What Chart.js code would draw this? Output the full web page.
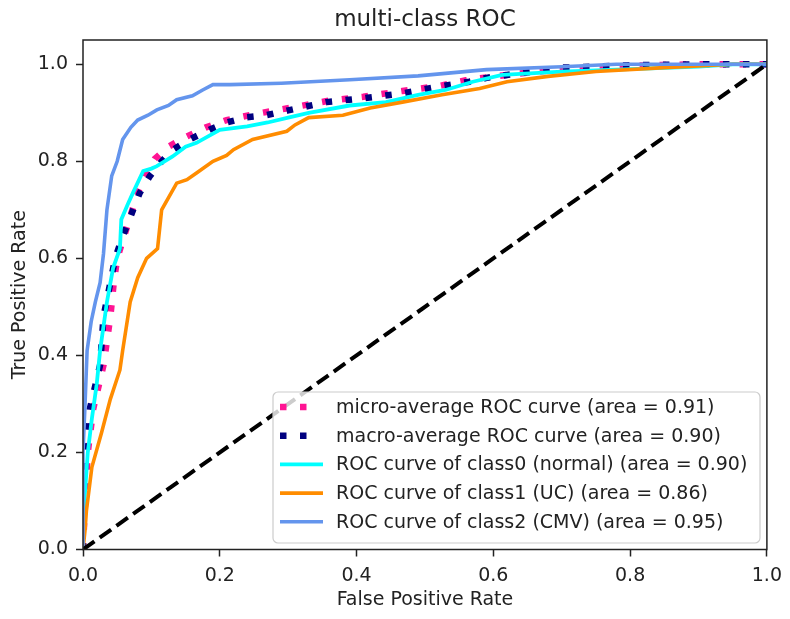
<!DOCTYPE html>
<html>
<head>
<meta charset="utf-8">
<script src="https://cdn.jsdelivr.net/npm/chart.js@4.4.0/dist/chart.umd.min.js"></script>
<style>
  html, body { margin: 0; padding: 0; background: #fff; }
  #wrap { width: 790px; height: 619px; }
</style>
</head>
<body>
<div id="wrap"><canvas id="rocChart" width="790" height="619"></canvas></div>
<script>
const xTicks = [0, 0.2, 0.4, 0.6, 0.8, 1.0];
const yTicks = [0, 0.2, 0.4, 0.6, 0.8, 1.0];

const microFpr = [0, 0.003, 0.007, 0.015, 0.03, 0.04, 0.045, 0.05, 0.06, 0.08, 0.092, 0.105, 0.125, 0.15, 0.18, 0.21, 0.25, 0.31, 0.36, 0.41, 0.467, 0.52, 0.56, 0.6, 0.7, 0.8, 0.9, 1.0];
const microTpr = [0, 0.1, 0.2, 0.29, 0.38, 0.48, 0.55, 0.6, 0.645, 0.735, 0.775, 0.805, 0.83, 0.85, 0.87, 0.885, 0.897, 0.912, 0.925, 0.933, 0.945, 0.955, 0.967, 0.975, 0.99, 0.997, 1.0, 1.0];

const macroFpr = [0, 0, 0.003, 0.01, 0.025, 0.03, 0.04, 0.047, 0.058, 0.083, 0.098, 0.115, 0.131, 0.156, 0.185, 0.21, 0.24, 0.268, 0.3, 0.356, 0.41, 0.467, 0.517, 0.565, 0.59, 0.62, 0.7, 0.8, 0.9, 1.0];
const macroTpr = [0, 0.1, 0.17, 0.29, 0.38, 0.48, 0.55, 0.6, 0.645, 0.735, 0.77, 0.8, 0.823, 0.845, 0.865, 0.88, 0.891, 0.895, 0.905, 0.922, 0.93, 0.94, 0.953, 0.964, 0.972, 0.978, 0.993, 0.998, 1.0, 1.0];

const class0Fpr = [0, 0, 0.003, 0.007, 0.013, 0.02, 0.025, 0.035, 0.044, 0.054, 0.056, 0.065, 0.073, 0.088, 0.1, 0.108, 0.131, 0.15, 0.166, 0.2, 0.24, 0.27, 0.3, 0.33, 0.39, 0.443, 0.49, 0.53, 0.57, 0.613, 0.7, 0.8, 0.9, 0.95, 1.0];
const class0Tpr = [0, 0.05, 0.12, 0.2, 0.27, 0.34, 0.41, 0.51, 0.58, 0.62, 0.68, 0.71, 0.735, 0.78, 0.785, 0.79, 0.81, 0.83, 0.838, 0.865, 0.872, 0.88, 0.89, 0.9, 0.915, 0.922, 0.937, 0.947, 0.964, 0.978, 0.985, 0.99, 0.995, 1.0, 1.0];

const class1Fpr = [0, 0.003, 0.005, 0.013, 0.027, 0.04, 0.054, 0.058, 0.069, 0.08, 0.093, 0.109, 0.112, 0.115, 0.137, 0.152, 0.166, 0.19, 0.21, 0.22, 0.248, 0.298, 0.31, 0.33, 0.38, 0.42, 0.467, 0.525, 0.58, 0.62, 0.68, 0.75, 0.85, 0.95, 1.0];
const class1Tpr = [0, 0.04, 0.08, 0.17, 0.24, 0.31, 0.37, 0.41, 0.51, 0.56, 0.6, 0.62, 0.66, 0.7, 0.755, 0.762, 0.776, 0.8, 0.812, 0.824, 0.845, 0.862, 0.875, 0.89, 0.895, 0.91, 0.922, 0.937, 0.95, 0.964, 0.975, 0.985, 0.993, 1.0, 1.0];

const class2Fpr = [0, 0, 0.003, 0.006, 0.012, 0.018, 0.025, 0.03, 0.035, 0.042, 0.05, 0.058, 0.07, 0.08, 0.095, 0.108, 0.125, 0.137, 0.16, 0.175, 0.19, 0.215, 0.29, 0.39, 0.49, 0.59, 0.7, 0.78, 1.0];
const class2Tpr = [0, 0.2, 0.3, 0.41, 0.47, 0.51, 0.55, 0.61, 0.7, 0.77, 0.8, 0.845, 0.87, 0.885, 0.895, 0.906, 0.915, 0.927, 0.935, 0.947, 0.958, 0.958, 0.961, 0.968, 0.976, 0.989, 0.995, 1.0, 1.0];

const chanceFpr = [0, 1];
const chanceTpr = [0, 1];

const curveLabels = [
    "micro-average ROC curve (area = 0.91)",
    "macro-average ROC curve (area = 0.90)",
    "ROC curve of class0 (normal) (area = 0.90)",
    "ROC curve of class1 (UC) (area = 0.86)",
    "ROC curve of class2 (CMV) (area = 0.95)",
];

const textColor = "#222222";
const font = { family: "DejaVu Sans", size: 19 };

const pts = (xs, ys) => xs.map((x, i) => ({ x: x, y: ys[i] }));

// title, full frame and the matplotlib-style legend box
const rocDecor = {
    id: "rocDecor",
    afterDraw(chart) {
        const { ctx, chartArea: a } = chart;
        ctx.save();
        ctx.strokeStyle = "#222";
        ctx.lineWidth = 1.5;
        ctx.strokeRect(a.left, a.top, a.right - a.left, a.bottom - a.top);

        ctx.fillStyle = textColor;
        ctx.font = "23px 'DejaVu Sans'";
        ctx.textAlign = "center";
        ctx.textBaseline = "middle";
        ctx.fillText("multi-class ROC", (a.left + a.right) / 2, 20);

        // legend
        const bx = 273, by = 392, bw = 487, bh = 151;
        ctx.beginPath();
        ctx.roundRect(bx, by, bw, bh, 5);
        ctx.fillStyle = "rgba(255,255,255,0.8)";
        ctx.fill();
        ctx.strokeStyle = "#cccccc";
        ctx.lineWidth = 1.2;
        ctx.stroke();

        ctx.font = "19px 'DejaVu Sans'";
        ctx.textAlign = "left";
        chart.data.datasets.forEach((ds, i) => {
            if (!ds.inLegend) return;
            const y = 407 + i * 28.7;
            ctx.beginPath();
            ctx.strokeStyle = ds.borderColor;
            ctx.lineWidth = ds.borderWidth;
            ctx.lineCap = "butt";
            ctx.setLineDash(ds.borderDash || []);
            ctx.moveTo(280, y);
            ctx.lineTo(ds.borderDash ? 314 : 323, y);
            ctx.stroke();
            ctx.setLineDash([]);
            ctx.fillStyle = textColor;
            ctx.fillText(ds.label, 336, y + 1);
        });
        ctx.restore();
    },
};

new Chart(document.getElementById("rocChart"), {
    type: "line",
    data: {
        datasets: [
            {
                label: curveLabels[0],
                data: pts(microFpr, microTpr),
                borderColor: "#ff1493",
                borderWidth: 6.5,
                borderDash: [6.5, 13.5],
                order: 6,
                inLegend: true,
            },
            {
                label: curveLabels[1],
                data: pts(macroFpr, macroTpr),
                borderColor: "#000080",
                borderWidth: 6.5,
                borderDash: [6.5, 13.5],
                order: 5,
                inLegend: true,
            },
            {
                label: curveLabels[2],
                data: pts(class0Fpr, class0Tpr),
                borderColor: "#00ffff",
                borderWidth: 3.8,
                order: 4,
                inLegend: true,
            },
            {
                label: curveLabels[3],
                data: pts(class1Fpr, class1Tpr),
                borderColor: "#ff8c00",
                borderWidth: 3.6,
                order: 3,
                inLegend: true,
            },
            {
                label: curveLabels[4],
                data: pts(class2Fpr, class2Tpr),
                borderColor: "#6495ed",
                borderWidth: 3.6,
                order: 2,
                inLegend: true,
            },
            {
                label: "chance",
                data: pts(chanceFpr, chanceTpr),
                borderColor: "#000000",
                borderWidth: 4,
                borderDash: [14, 6.5],
                order: 1,
                inLegend: false,
            },
        ],
    },
    options: {
        responsive: false,
        animation: false,
        layout: { padding: { top: 40, right: 22, left: 0, bottom: 0 } },
        elements: {
            point: { radius: 0 },
            line: { tension: 0, borderCapStyle: "butt", fill: false },
        },
        plugins: {
            legend: { display: false },
            tooltip: { enabled: false },
            title: { display: false },
        },
        scales: {
            x: {
                type: "linear",
                min: 0,
                max: 1,
                afterFit: (s) => { s.height = 69.5; },
                afterBuildTicks: (s) => { s.ticks = xTicks.map((v) => ({ value: v })); },
                ticks: {
                    callback: (v) => Number(v).toFixed(1),
                    color: textColor,
                    font: font,
                    padding: 8,
                    maxRotation: 0,
                },
                grid: {
                    drawOnChartArea: false,
                    drawTicks: true,
                    tickLength: 7,
                    tickWidth: 1.5,
                    tickColor: "#222",
                },
                border: { display: false },
                title: {
                    display: true,
                    text: "False Positive Rate",
                    color: textColor,
                    font: font,
                    padding: { top: 0, bottom: 8 },
                },
            },
            y: {
                type: "linear",
                min: 0,
                max: 1.05,
                afterFit: (s) => { s.width = 83; },
                afterBuildTicks: (s) => { s.ticks = yTicks.map((v) => ({ value: v })); },
                ticks: {
                    callback: (v) => Number(v).toFixed(1),
                    color: textColor,
                    font: font,
                    padding: 8,
                },
                grid: {
                    drawOnChartArea: false,
                    drawTicks: true,
                    tickLength: 7,
                    tickWidth: 1.5,
                    tickColor: "#222",
                },
                border: { display: false },
                title: {
                    display: true,
                    text: "True Positive Rate",
                    color: textColor,
                    font: font,
                    padding: { top: 8.6, bottom: 0 },
                },
            },
        },
    },
    plugins: [rocDecor],
});
</script>
</body>
</html>
